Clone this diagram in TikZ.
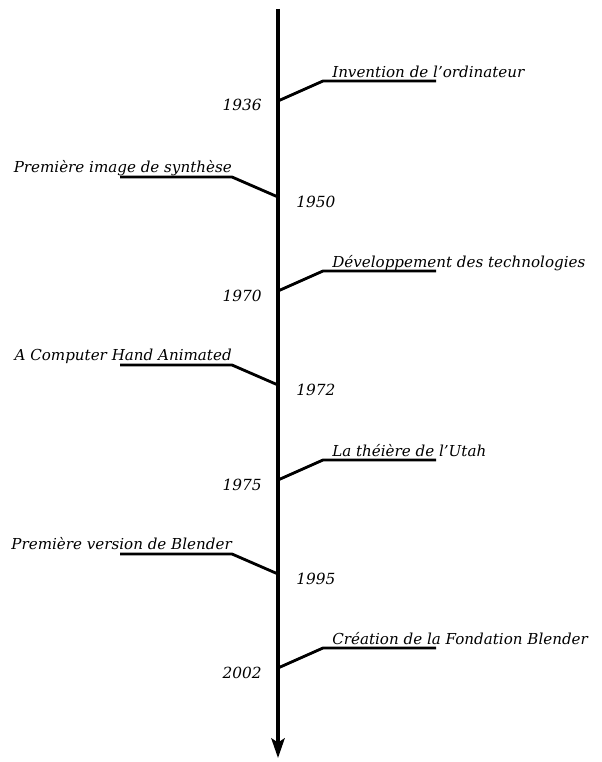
\documentclass[tikz,border=0pt]{standalone}
\usepackage{fontspec}
\setmainfont{DejaVu Serif}
\usetikzlibrary{arrows.meta}
\tikzset{timeaxis/.style = {line width = 2.3pt, -{Stealth[length=14pt, width=9.5pt, inset=3pt]}}}
\tikzset{leader/.style = {line width = 2pt}}
\tikzset{event/.style = {font = \fontsize{10.75}{13}\selectfont\itshape, inner sep = 0}}
\tikzset{year/.style = {font = \fontsize{10.9}{13}\selectfont\itshape, inner sep = 0}}

\begin{document}
\begin{tikzpicture}[x = 0.025cm, y = -0.025cm]
    \useasboundingbox (0, 0) rectangle (602, 762);

    \coordinate (top) at (278, 9);
    \coordinate (bottom) at (278, 758);
    \draw [timeaxis] (top) -- (bottom);

    % right side events
    \coordinate (p1936) at (278, 101);
    \draw [leader] (p1936) -- ++(45, -20) coordinate (b1936) -- ++(113, 0) coordinate (e1936);
    \node [event, anchor = base west] (t1936) at ([shift = {(9, -4)}] b1936) {Invention de l’ordinateur};
    \node [year, anchor = base east] (y1936) at ([shift = {(-16, 10)}] p1936) {1936};

    \coordinate (p1970) at (278, 291);
    \draw [leader] (p1970) -- ++(45, -20) coordinate (b1970) -- ++(113, 0) coordinate (e1970);
    \node [event, anchor = base west] (t1970) at ([shift = {(9, -4)}] b1970) {Développement des technologies};
    \node [year, anchor = base east] (y1970) at ([shift = {(-16, 10)}] p1970) {1970};

    \coordinate (p1975) at (278, 480);
    \draw [leader] (p1975) -- ++(45, -20) coordinate (b1975) -- ++(113, 0) coordinate (e1975);
    \node [event, anchor = base west] (t1975) at ([shift = {(9, -4)}] b1975) {La théière de l’Utah};
    \node [year, anchor = base east] (y1975) at ([shift = {(-16, 10)}] p1975) {1975};

    \coordinate (p2002) at (278, 668);
    \draw [leader] (p2002) -- ++(45, -20) coordinate (b2002) -- ++(113, 0) coordinate (e2002);
    \node [event, anchor = base west] (t2002) at ([shift = {(9, -4)}] b2002) {Création de la Fondation Blender};
    \node [year, anchor = base east] (y2002) at ([shift = {(-16, 10)}] p2002) {2002};

    % left side events
    \coordinate (p1950) at (278, 197);
    \draw [leader] (p1950) -- ++(-46, -20) coordinate (b1950) -- ++(-112, 0) coordinate (e1950);
    \node [event, anchor = base east] (t1950) at ([shift = {(0, -5)}] b1950) {Première image de synthèse};
    \node [year, anchor = base west] (y1950) at ([shift = {(18, 10)}] p1950) {1950};

    \coordinate (p1972) at (278, 385);
    \draw [leader] (p1972) -- ++(-46, -20) coordinate (b1972) -- ++(-112, 0) coordinate (e1972);
    \node [event, anchor = base east] (t1972) at ([shift = {(0, -5)}] b1972) {A Computer Hand Animated};
    \node [year, anchor = base west] (y1972) at ([shift = {(18, 10)}] p1972) {1972};

    \coordinate (p1995) at (278, 574);
    \draw [leader] (p1995) -- ++(-46, -20) coordinate (b1995) -- ++(-112, 0) coordinate (e1995);
    \node [event, anchor = base east] (t1995) at ([shift = {(0, -5)}] b1995) {Première version de Blender};
    \node [year, anchor = base west] (y1995) at ([shift = {(18, 10)}] p1995) {1995};
  \end{tikzpicture}
\end{document}
